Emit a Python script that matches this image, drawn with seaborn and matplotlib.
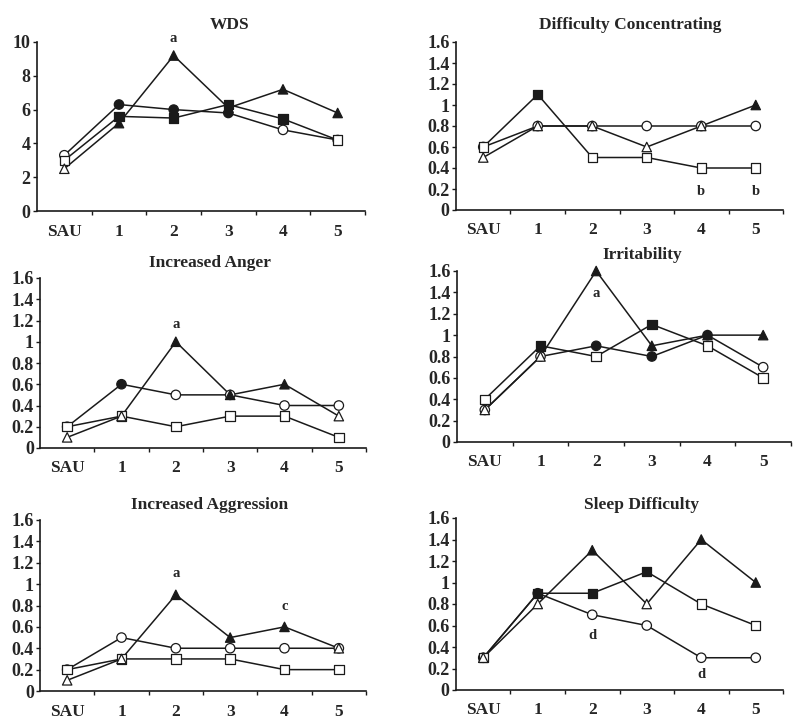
import numpy as np
import pandas as pd
import seaborn as sns
import matplotlib.pyplot as plt
from matplotlib.ticker import FuncFormatter

sessions = ['SAU', '1', '2', '3', '4', '5']
groups = ['circle', 'square', 'triangle']

# WDS
wds_circle = [3.3, 6.3, 6.0, 5.8, 4.8, 4.2]
wds_square = [3.0, 5.6, 5.5, 6.3, 5.45, 4.2]
wds_triangle = [2.5, 5.2, 9.2, 6.1, 7.2, 5.8]
# 1 = filled marker
wds_circle_f = [0, 1, 1, 1, 0, 0]
wds_square_f = [0, 1, 1, 1, 1, 0]
wds_triangle_f = [0, 1, 1, 1, 1, 1]

# Difficulty Concentrating
dc_circle = [0.6, 0.8, 0.8, 0.8, 0.8, 0.8]
dc_square = [0.6, 1.1, 0.5, 0.5, 0.4, 0.4]
dc_triangle = [0.5, 0.8, 0.8, 0.6, 0.8, 1.0]
dc_circle_f = [0, 0, 0, 0, 0, 0]
dc_square_f = [0, 1, 0, 0, 0, 0]
dc_triangle_f = [0, 0, 0, 0, 0, 1]

# Increased Anger
an_circle = [0.2, 0.6, 0.5, 0.5, 0.4, 0.4]
an_square = [0.2, 0.3, 0.2, 0.3, 0.3, 0.1]
an_triangle = [0.1, 0.3, 1.0, 0.5, 0.6, 0.3]
an_circle_f = [0, 1, 0, 0, 0, 0]
an_square_f = [0, 0, 0, 0, 0, 0]
an_triangle_f = [0, 0, 1, 1, 1, 0]

# Irritability
ir_circle = [0.3, 0.8, 0.9, 0.8, 1.0, 0.7]
ir_square = [0.4, 0.9, 0.8, 1.1, 0.9, 0.6]
ir_triangle = [0.3, 0.8, 1.6, 0.9, 1.0, 1.0]
ir_circle_f = [0, 0, 1, 1, 1, 0]
ir_square_f = [0, 1, 0, 1, 0, 0]
ir_triangle_f = [0, 0, 1, 1, 1, 1]

# Increased Aggression
ag_circle = [0.2, 0.5, 0.4, 0.4, 0.4, 0.4]
ag_square = [0.2, 0.3, 0.3, 0.3, 0.2, 0.2]
ag_triangle = [0.1, 0.3, 0.9, 0.5, 0.6, 0.4]
ag_circle_f = [0, 0, 0, 0, 0, 0]
ag_square_f = [0, 0, 0, 0, 0, 0]
ag_triangle_f = [0, 0, 1, 1, 1, 0]

# Sleep Difficulty
sl_circle = [0.3, 0.9, 0.7, 0.6, 0.3, 0.3]
sl_square = [0.3, 0.9, 0.9, 1.1, 0.8, 0.6]
sl_triangle = [0.3, 0.8, 1.3, 0.8, 1.4, 1.0]
sl_circle_f = [0, 1, 0, 0, 0, 0]
sl_square_f = [0, 1, 1, 1, 0, 0]
sl_triangle_f = [0, 0, 1, 0, 1, 1]

# significance letters: (session index, y, letter)
wds_notes = [(2, 10.2, 'a')]
dc_notes = [(4, 0.18, 'b'), (5, 0.18, 'b')]
an_notes = [(2, 1.16, 'a')]
ir_notes = [(2, 1.39, 'a')]
ag_notes = [(2, 1.10, 'a'), (4, 0.79, 'c')]
sl_notes = [(2, 0.51, 'd'), (4, 0.14, 'd')]

W, H = 800, 724

# (title, values, fills, notes, ymax, ystep, axes box px [left, right, bottom, top], title px)
panels = [
    ('WDS', [wds_circle, wds_square, wds_triangle], [wds_circle_f, wds_square_f, wds_triangle_f],
     wds_notes, 10, 2, (37, 365, 211, 42), (230, 25)),
    ('Difficulty Concentrating', [dc_circle, dc_square, dc_triangle], [dc_circle_f, dc_square_f, dc_triangle_f],
     dc_notes, 1.6, 0.2, (456, 783, 210, 42), (630, 25)),
    ('Increased Anger', [an_circle, an_square, an_triangle], [an_circle_f, an_square_f, an_triangle_f],
     an_notes, 1.6, 0.2, (40, 366, 448, 278), (210, 263)),
    ('Irritability', [ir_circle, ir_square, ir_triangle], [ir_circle_f, ir_square_f, ir_triangle_f],
     ir_notes, 1.6, 0.2, (457, 791, 442, 271), (642, 255)),
    ('Increased Aggression', [ag_circle, ag_square, ag_triangle], [ag_circle_f, ag_square_f, ag_triangle_f],
     ag_notes, 1.6, 0.2, (40, 366, 691, 520), (210, 505)),
    ('Sleep Difficulty', [sl_circle, sl_square, sl_triangle], [sl_circle_f, sl_square_f, sl_triangle_f],
     sl_notes, 1.6, 0.2, (456, 783, 690, 518), (642, 505)),
]

sns.set_style('ticks')
plt.rcParams['font.family'] = ['Liberation Serif', 'DejaVu Serif']
plt.rcParams['font.weight'] = 'bold'

fig = plt.figure(figsize=(W / 100, H / 100), dpi=100)
ink = '#1a1a1a'
markers = {'circle': 'o', 'square': 's', 'triangle': '^'}

for title, values, fills, notes, ymax, ystep, box, tpos in panels:
    l, r, b, t = box
    ax = fig.add_axes([l / W, (H - b) / H, (r - l) / W, (b - t) / H])

    rows = []
    for g, vals, fl in zip(groups, values, fills):
        for i, (v, f) in enumerate(zip(vals, fl)):
            rows.append({'pos': i, 'value': v, 'group': g, 'fill': 'filled' if f else 'open'})
    df = pd.DataFrame(rows)

    sns.lineplot(data=df, x='pos', y='value', units='group', estimator=None,
                 color=ink, lw=1.1, ax=ax, legend=False)
    sns.scatterplot(data=df, x='pos', y='value', style='group', markers=markers,
                    hue='fill', palette={'filled': ink, 'open': 'white'},
                    edgecolor=ink, linewidth=0.9, s=46, ax=ax, legend=False, zorder=3, clip_on=False)

    for x, y, s in notes:
        ax.text(x, y, s, ha='center', va='center', fontsize=10.5, fontweight='bold', clip_on=False)

    ax.set_xlim(-0.5, 5.5)
    ax.set_ylim(0, ymax)
    ax.set_yticks(np.round(np.arange(0, ymax + ystep / 2, ystep), 2))
    ax.yaxis.set_major_formatter(FuncFormatter(lambda v, p: '%g' % v))
    ax.set_xticks(range(len(sessions)))
    ax.set_xticklabels(sessions)
    ax.set_xticks(np.arange(0.5, 5.6, 1), minor=True)
    ax.tick_params(axis='x', which='major', length=0, labelsize=12.5, pad=9)
    ax.tick_params(axis='x', which='minor', length=3, width=1, direction='out', color=ink)
    ax.tick_params(axis='y', length=3, width=1, labelsize=13, pad=1.5, color=ink)
    for lab in ax.get_xticklabels() + ax.get_yticklabels():
        lab.set_fontweight('bold')
    ax.set_xlabel('')
    ax.set_ylabel('')
    sns.despine(ax=ax)
    for sp in ['left', 'bottom']:
        ax.spines[sp].set_linewidth(1.2)
        ax.spines[sp].set_color(ink)

    fig.text(tpos[0] / W, 1 - tpos[1] / H, title, ha='center', va='center',
             fontsize=12.5, fontweight='bold')

fig.savefig('out.png', dpi=100)
